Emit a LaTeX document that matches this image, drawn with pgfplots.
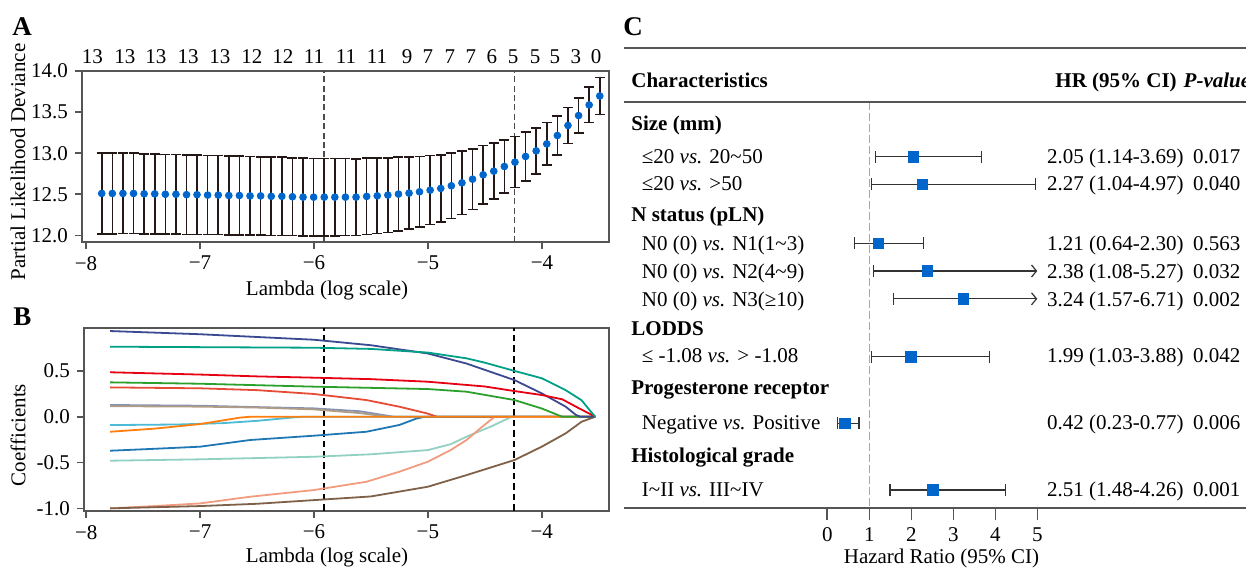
\documentclass[border=0pt]{standalone}
\usepackage{fontspec}
\setmainfont{Liberation Serif}
\usepackage{pgfplots}
\usepackage{pgfplotstable}
\pgfplotsset{compat=1.18}
\usetikzlibrary{arrows.meta}

\newcommand\fsz{\fontsize{10.5}{12.6}\selectfont}

\definecolor{dotblue}{RGB}{0,102,204}
\definecolor{ebar}{RGB}{35,24,21}
\definecolor{frame}{RGB}{85,85,85}
\definecolor{cNavy}{RGB}{59,73,146}
\definecolor{cTeal}{RGB}{0,160,135}
\definecolor{cRed}{RGB}{230,0,18}
\definecolor{cGreen}{RGB}{44,160,44}
\definecolor{cSalmon}{RGB}{230,75,53}
\definecolor{cLav}{RGB}{132,145,180}
\definecolor{cTan}{RGB}{176,156,133}
\definecolor{cCyan}{RGB}{77,187,213}
\definecolor{cOrange}{RGB}{255,127,14}
\definecolor{cBlue}{RGB}{31,119,180}
\definecolor{cMint}{RGB}{145,209,194}
\definecolor{cLSalmon}{RGB}{243,155,127}
\definecolor{cBrown}{RGB}{126,97,72}

% cross-validation curve (panel A)
\pgfplotstableread{
x y e
-7.862 12.510 0.490
-7.769 12.510 0.490
-7.676 12.510 0.489
-7.583 12.510 0.489
-7.490 12.505 0.488
-7.397 12.505 0.487
-7.304 12.500 0.486
-7.211 12.500 0.485
-7.118 12.495 0.484
-7.026 12.495 0.483
-6.933 12.490 0.482
-6.840 12.490 0.481
-6.747 12.485 0.480
-6.654 12.485 0.479
-6.561 12.480 0.478
-6.468 12.480 0.477
-6.375 12.475 0.476
-6.282 12.475 0.475
-6.189 12.470 0.474
-6.096 12.465 0.473
-6.003 12.465 0.472
-5.910 12.465 0.471
-5.817 12.465 0.470
-5.724 12.465 0.469
-5.631 12.465 0.467
-5.538 12.474 0.465
-5.445 12.481 0.460
-5.352 12.490 0.455
-5.259 12.502 0.450
-5.166 12.514 0.440
-5.074 12.530 0.430
-4.981 12.550 0.420
-4.888 12.571 0.410
-4.795 12.603 0.400
-4.702 12.639 0.385
-4.609 12.684 0.370
-4.516 12.737 0.355
-4.423 12.781 0.340
-4.330 12.838 0.325
-4.237 12.891 0.310
-4.144 12.960 0.295
-4.051 13.028 0.280
-3.958 13.113 0.260
-3.865 13.215 0.240
-3.772 13.337 0.220
-3.679 13.458 0.210
-3.586 13.587 0.215
-3.493 13.696 0.225
}\cvdata

% forest plot (panel C): row position in px, HR
\pgfplotstableread{
y hr
156.7 2.05
184.3 2.27
243.3 1.21
271.0 2.38
298.8 3.24
356.7 1.99
423.3 0.42
490.0 2.51
}\forest

\pgfplotsset{
  base/.style={scale only axis, anchor=north west,
    font=\fsz, tick label style={font=\fsz},
    axis line style={draw=frame, line width=0.8pt},
    tick style={draw=frame, line width=0.8pt},
    tick align=outside, tick pos=left, major tick length=3.5pt},
  path/.style={line width=0.9pt, no marks, line join=round},
}

\begin{document}
\begin{tikzpicture}
\path[use as bounding box] (0,0) rectangle (623pt,-284.5pt);

% ---------- panel A ----------
\begin{axis}[base, at={(41pt,-35.5pt)}, width=263.5pt, height=85.5pt,
    xmin=-8.035, xmax=-3.412, ymin=11.919, ymax=14.0,
    xtick={-8,-7,-6,-5,-4}, xticklabels={−8,−7,−6,−5,−4},
    ytick={12,12.5,13,13.5,14}, yticklabels={12.0,12.5,13.0,13.5,14.0}]
  \addplot[black!70, line width=0.6pt, dash pattern=on 3pt off 1.7pt] coordinates {(-5.912,11.919) (-5.912,14)};
  \addplot[black!70, line width=0.6pt, dash pattern=on 3pt off 1.7pt] coordinates {(-4.243,11.919) (-4.243,14)};
  \addplot[only marks, mark=*, mark size=1.7pt, mark options={draw=dotblue, fill=dotblue},
    error bars/.cd, y dir=both, y explicit,
    error bar style={line width=0.8pt, ebar},
    error mark options={rotate=90, mark size=2.5pt, line width=0.8pt, ebar}]
    table[x=x, y=y, y error=e]{\cvdata};
\end{axis}
% number of non-zero coefficients on top
\begin{axis}[scale only axis, anchor=north west, at={(41pt,-35.5pt)}, width=263.5pt, height=85.5pt,
    xmin=-8.035, xmax=-3.412, ymin=0, ymax=1,
    axis line style={draw=none}, major tick length=0pt, ytick=\empty,
    xtick={-7.945,-7.658,-7.386,-7.105,-6.825,-6.544,-6.272,-6.0,-5.719,-5.447,-5.184,-5.0,-4.807,-4.623,-4.439,-4.254,-4.061,-3.886,-3.702,-3.526},
    xticklabels={13,13,13,13,13,12,12,11,11,11,9,7,7,7,6,5,5,5,3,0},
    xticklabel pos=right,
    xticklabel style={font=\fsz, anchor=base, inner sep=0pt, yshift=3.85pt}]
\end{axis}

% ---------- panel B ----------
\begin{axis}[base, at={(42pt,-164pt)}, width=262.5pt, height=91.5pt,
    xmin=-8.020, xmax=-3.409, ymin=-1.029, ymax=0.968,
    xtick={-8,-7,-6,-5,-4}, xticklabels={−8,−7,−6,−5,−4},
    ytick={-1,-0.5,0,0.5}, yticklabels={-1.0,-0.5,0.0,0.5}]
  \addplot[black, line width=0.6pt, dash pattern=on 3.3pt off 2pt] coordinates {(-5.912,-1.029) (-5.912,0.968)};
  \addplot[black, line width=0.6pt, dash pattern=on 3.3pt off 2pt] coordinates {(-4.243,-1.029) (-4.243,0.968)};
  \addplot[path, cLav] coordinates {(-7.79,0.128) (-7.0,0.12) (-6.5,0.105) (-6.0,0.091) (-5.6,0.06) (-5.3,0.0) (-3.53,0)};
  \addplot[path, cTan] coordinates {(-7.79,0.115) (-7.0,0.11) (-6.5,0.10) (-6.0,0.08) (-5.6,0.04) (-5.35,0.0) (-3.53,0)};
  \addplot[path, cCyan] coordinates {(-7.79,-0.091) (-7.2,-0.085) (-6.8,-0.07) (-6.5,-0.045) (-6.2,-0.01) (-6.1,0) (-3.53,0)};
  \addplot[path, cSalmon] coordinates {(-7.79,0.32) (-7.0,0.31) (-6.5,0.29) (-6.0,0.248) (-5.54,0.182) (-5.25,0.109) (-5.01,0.037) (-4.92,0) (-3.53,0)};
  \addplot[path, cBlue] coordinates {(-7.79,-0.371) (-7.4,-0.35) (-7.0,-0.327) (-6.56,-0.254) (-6.0,-0.207) (-5.54,-0.164) (-5.25,-0.09) (-5.1,-0.02) (-5.03,0) (-3.53,0)};
  \addplot[path, cMint] coordinates {(-7.79,-0.48) (-7.0,-0.465) (-6.0,-0.437) (-5.5,-0.41) (-5.0,-0.364) (-4.8,-0.30) (-4.66,-0.218) (-4.45,-0.109) (-4.28,-0.01) (-4.25,0) (-3.53,0)};
  \addplot[path, cLSalmon] coordinates {(-7.79,-1.0) (-7.4,-0.975) (-7.0,-0.946) (-6.56,-0.873) (-6.0,-0.80) (-5.54,-0.71) (-5.25,-0.60) (-5.0,-0.491) (-4.8,-0.364) (-4.66,-0.254) (-4.54,-0.127) (-4.45,-0.036) (-4.41,0) (-3.53,0)};
  \addplot[path, cOrange] coordinates {(-7.79,-0.164) (-7.4,-0.13) (-7.0,-0.08) (-6.8,-0.04) (-6.65,-0.01) (-6.56,0) (-3.53,0)};
  \addplot[path, cBrown] coordinates {(-7.79,-1.0) (-7.0,-0.975) (-6.5,-0.95) (-6.0,-0.91) (-5.5,-0.87) (-5.0,-0.764) (-4.66,-0.637) (-4.24,-0.473) (-4.0,-0.327) (-3.79,-0.182) (-3.65,-0.055) (-3.53,0)};
  \addplot[path, cGreen] coordinates {(-7.79,0.375) (-7.0,0.36) (-6.0,0.328) (-5.5,0.315) (-5.0,0.302) (-4.66,0.273) (-4.24,0.182) (-4.0,0.09) (-3.82,0.0) (-3.53,0)};
  \addplot[path, cNavy] coordinates {(-7.79,0.935) (-7.0,0.90) (-6.5,0.87) (-6.0,0.84) (-5.5,0.78) (-5.0,0.69) (-4.66,0.58) (-4.24,0.40) (-4.0,0.255) (-3.79,0.11) (-3.70,0.02) (-3.66,0.0) (-3.53,0)};
  \addplot[path, cRed] coordinates {(-7.79,0.485) (-7.0,0.46) (-6.5,0.44) (-6.0,0.426) (-5.5,0.41) (-5.0,0.382) (-4.5,0.33) (-4.24,0.28) (-4.0,0.237) (-3.82,0.19) (-3.70,0.11) (-3.53,0)};
  \addplot[path, cTeal] coordinates {(-7.79,0.764) (-6.0,0.753) (-5.5,0.74) (-5.0,0.70) (-4.66,0.637) (-4.5,0.59) (-4.24,0.50) (-4.0,0.42) (-3.79,0.29) (-3.65,0.18) (-3.58,0.073) (-3.53,0)};
\end{axis}

% ---------- panel C ----------
\begin{axis}[scale only axis, anchor=north west, at={(312pt,-50.85pt)}, width=311pt, height=203.3pt,
    xmin=-4.840, xmax=9.969, ymin=101.7, ymax=508.3, y dir=reverse,
    axis line style={draw=none}, ytick=\empty,
    xtick={0,1,2,3,4,5}, xticklabels={0,1,2,3,4,5}, xtick pos=bottom,
    tick align=outside, major tick length=6pt,
    tick style={draw=frame, line width=0.8pt},
    xticklabel style={font=\fsz}]
  \addplot[gray!70, line width=0.6pt, dash pattern=on 4pt off 1.5pt] coordinates {(1,101.7) (1,508.3)};
  \addplot[black!80, line width=0.6pt, {Bar[width=6pt]}-{Bar[width=6pt]}] coordinates {(1.14,156.7) (3.69,156.7)};
  \addplot[black!80, line width=0.6pt, {Bar[width=6pt]}-{Bar[width=6pt]}] coordinates {(1.04,184.3) (4.97,184.3)};
  \addplot[black!80, line width=0.6pt, {Bar[width=6pt]}-{Bar[width=6pt]}] coordinates {(0.64,243.3) (2.30,243.3)};
  \addplot[black!80, line width=0.6pt, {Bar[width=6pt]}-{Straight Barb[length=2.5pt,width=6pt]}] coordinates {(1.08,271.0) (5,271.0)};
  \addplot[black!80, line width=0.6pt, {Bar[width=6pt]}-{Straight Barb[length=2.5pt,width=6pt]}] coordinates {(1.57,298.8) (5,298.8)};
  \addplot[black!80, line width=0.6pt, {Bar[width=6pt]}-{Bar[width=6pt]}] coordinates {(1.03,356.7) (3.88,356.7)};
  \addplot[black!80, line width=0.6pt, {Bar[width=6pt]}-{Bar[width=6pt]}] coordinates {(0.23,423.3) (0.77,423.3)};
  \addplot[black!80, line width=0.6pt, {Bar[width=6pt]}-{Bar[width=6pt]}] coordinates {(1.48,490.0) (4.26,490.0)};
  \addplot[only marks, mark=square*, mark size=2.6pt, mark options={draw=dotblue, fill=dotblue}]
    table[x=hr, y=y]{\forest};
\end{axis}

\begin{scope}[x=0.5pt, y=-0.5pt, font=\fsz]
  % panel letters
  \node[anchor=base west, inner sep=0pt, font=\fontsize{13.5}{16}\selectfont\bfseries] at (12,35) {A};
  \node[anchor=base west, inner sep=0pt, font=\fontsize{13.5}{16}\selectfont\bfseries] at (13,325) {B};
  \node[anchor=base west, inner sep=0pt, font=\fontsize{13.5}{16}\selectfont\bfseries] at (623,35) {C};
  % axis titles
  \node[rotate=90, inner sep=0pt] at (18,162) {Partial Likelihood Deviance};
  \node[anchor=base, inner sep=0pt] at (327,295) {Lambda (log scale)};
  \node[rotate=90, inner sep=0pt] at (18,435) {Coefficients};
  \node[anchor=base, inner sep=0pt] at (327,562.5) {Lambda (log scale)};
  \node[anchor=base, inner sep=0pt] at (941.5,563.3) {Hazard Ratio (95\% CI)};
  % table rules
  \draw[frame, line width=0.85pt] (624,48.3) -- (1246,48.3);
  \draw[frame, line width=0.85pt] (624,101.7) -- (1246,101.7);
  \draw[frame, line width=0.85pt] (624,508.3) -- (1246,508.3);
  % header
  \node[anchor=base west, inner sep=0pt, font=\fsz\bfseries] at (631,87.3) {Characteristics};
  \node[anchor=base west, inner sep=0pt, font=\fsz\bfseries] at (1055,87.3) {HR (95\% CI)};
  \node[anchor=base west, inner sep=0pt, font=\fsz\bfseries\itshape] at (1183.3,87.3) {P-value};
  % groups
  \node[anchor=base west, inner sep=0pt, font=\fsz\bfseries] at (631,130.5) {Size (mm)};
  \node[anchor=base west, inner sep=0pt, font=\fsz\bfseries] at (631,221.7) {N status (pLN)};
  \node[anchor=base west, inner sep=0pt, font=\fsz\bfseries] at (631,335.7) {LODDS};
  \node[anchor=base west, inner sep=0pt, font=\fsz\bfseries] at (631,394.3) {Progesterone receptor};
  \node[anchor=base west, inner sep=0pt, font=\fsz\bfseries] at (631,462.7) {Histological grade};
  % rows
  \node[anchor=base west, inner sep=0pt] at (641.5,163.3) {≤20 \textit{vs.} 20\textasciitilde50};
  \node[anchor=base west, inner sep=0pt] at (641.5,190.8) {≤20 \textit{vs.} >50};
  \node[anchor=base west, inner sep=0pt] at (641.5,250) {N0 (0) \textit{vs.} N1(1\textasciitilde3)};
  \node[anchor=base west, inner sep=0pt] at (641.5,278) {N0 (0) \textit{vs.} N2(4\textasciitilde9)};
  \node[anchor=base west, inner sep=0pt] at (641.5,306) {N0 (0) \textit{vs.} N3(≥10)};
  \node[anchor=base west, inner sep=0pt] at (641.5,362.7) {≤ -1.08 \textit{vs.} > -1.08};
  \node[anchor=base west, inner sep=0pt] at (641.5,429.3) {Negative \textit{vs.} Positive};
  \node[anchor=base west, inner sep=0pt] at (641.5,496.7) {I\textasciitilde II \textit{vs.} III\textasciitilde IV};
  % HR and p
  \node[anchor=base west, inner sep=0pt] at (1046.7,163.3) {2.05 (1.14-3.69)};
  \node[anchor=base west, inner sep=0pt] at (1046.7,190.8) {2.27 (1.04-4.97)};
  \node[anchor=base west, inner sep=0pt] at (1046.7,250) {1.21 (0.64-2.30)};
  \node[anchor=base west, inner sep=0pt] at (1046.7,278) {2.38 (1.08-5.27)};
  \node[anchor=base west, inner sep=0pt] at (1046.7,306) {3.24 (1.57-6.71)};
  \node[anchor=base west, inner sep=0pt] at (1046.7,362.7) {1.99 (1.03-3.88)};
  \node[anchor=base west, inner sep=0pt] at (1046.7,429.3) {0.42 (0.23-0.77)};
  \node[anchor=base west, inner sep=0pt] at (1046.7,496.7) {2.51 (1.48-4.26)};
  \node[anchor=base west, inner sep=0pt] at (1192.7,163.3) {0.017};
  \node[anchor=base west, inner sep=0pt] at (1192.7,190.8) {0.040};
  \node[anchor=base west, inner sep=0pt] at (1192.7,250) {0.563};
  \node[anchor=base west, inner sep=0pt] at (1192.7,278) {0.032};
  \node[anchor=base west, inner sep=0pt] at (1192.7,306) {0.002};
  \node[anchor=base west, inner sep=0pt] at (1192.7,362.7) {0.042};
  \node[anchor=base west, inner sep=0pt] at (1192.7,429.3) {0.006};
  \node[anchor=base west, inner sep=0pt] at (1192.7,496.7) {0.001};
\end{scope}
\end{tikzpicture}
\end{document}
